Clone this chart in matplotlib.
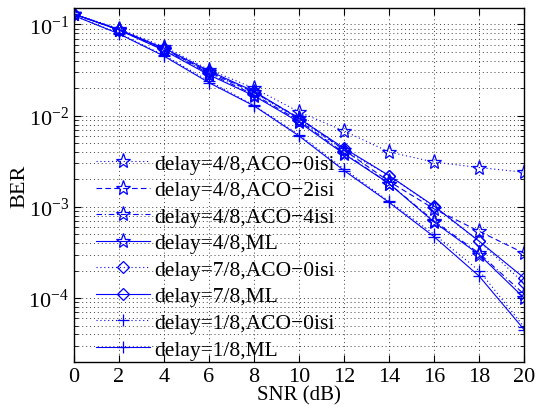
import numpy as np
import matplotlib
matplotlib.use("Agg")
import matplotlib.pyplot as plt
from matplotlib.ticker import LogLocator, NullFormatter

# values
snr = [0, 2, 4, 6, 8, 10, 12, 14, 16, 18, 20]
d4_aco0 = [0.13, 0.090, 0.057, 0.032, 0.020, 0.0110, 0.0068, 0.0040, 0.0031, 0.0027, 0.0024]
d4_aco2 = [0.13, 0.088, 0.054, 0.030, 0.018, 0.0095, 0.0042, 0.0019, 0.00095, 0.00054, 0.00031]
d4_aco4 = [0.13, 0.087, 0.053, 0.029, 0.017, 0.0088, 0.0039, 0.0018, 0.00070, 0.00031, 0.00011]
d4_ml = [0.13, 0.087, 0.052, 0.028, 0.0165, 0.0085, 0.0038, 0.0018, 0.00068, 0.00030, 0.00010]
d7_aco0 = [0.13, 0.088, 0.054, 0.030, 0.018, 0.0090, 0.0042, 0.0022, 0.0010, 0.00042, 0.000145]
d7_ml = [0.13, 0.088, 0.055, 0.031, 0.0185, 0.0093, 0.0044, 0.0022, 0.00102, 0.00042, 0.000166]
d1_aco0 = [0.125, 0.080, 0.046, 0.024, 0.013, 0.0062, 0.0026, 0.00115, 0.00050, 0.00020, 0.000048]
d1_ml = [0.125, 0.079, 0.045, 0.023, 0.0128, 0.0060, 0.0025, 0.00112, 0.00047, 0.000174, 0.000045]

plt.rcParams['font.family'] = ['Liberation Serif', 'DejaVu Serif']
plt.rcParams['mathtext.fontset'] = 'stix'

fig = plt.figure(figsize=(5.36, 4.10), dpi=100)
ax = fig.add_axes([0.138, 0.115, 0.84, 0.862])

blue = (0, 0, 1)
dotted = (0, (1, 2.5))
dashed = (0, (5, 3))
dashdot = (0, (5, 2.5, 1, 2.5))
series = [
    (d4_aco0, dotted, '*', 11, 'delay=4/8,ACO\u22120isi'),
    (d4_aco2, dashed, '*', 11, 'delay=4/8,ACO\u22122isi'),
    (d4_aco4, dashdot, '*', 11, 'delay=4/8,ACO\u22124isi'),
    (d4_ml, '-', '*', 11, 'delay=4/8,ML'),
    (d7_aco0, dotted, 'D', 6.5, 'delay=7/8,ACO\u22120isi'),
    (d7_ml, '-', 'D', 6.5, 'delay=7/8,ML'),
    (d1_aco0, dotted, '+', 9, 'delay=1/8,ACO\u22120isi'),
    (d1_ml, '-', '+', 9, 'delay=1/8,ML'),
]
for vals, ls, mk, ms, lab in series:
    ax.semilogy(snr, vals, linestyle=ls, marker=mk, color=blue, lw=0.8,
                ms=ms, mfc='none', mec=blue, mew=0.9, label=lab)

ax.set_xlim(0, 20)
ax.set_ylim(2e-5, 0.15)
ax.set_xticks(range(0, 21, 2))
ax.yaxis.set_major_locator(LogLocator(base=10))
ax.yaxis.set_minor_locator(LogLocator(base=10, subs=np.arange(2, 10)))
ax.yaxis.set_minor_formatter(NullFormatter())
grid_ls = (0, (1, 3))
ax.grid(True, which='major', linestyle=grid_ls, color='0.25', lw=0.7)
ax.grid(True, which='minor', axis='y', linestyle=grid_ls, color='0.25', lw=0.7)
ax.tick_params(which='both', direction='in', top=True, right=True, labelsize=16)
ax.tick_params(which='major', length=5)
ax.tick_params(which='minor', length=3)
for s in ax.spines.values():
    s.set_linewidth(1.0)
ax.set_xlabel('SNR (dB)', fontsize=15, labelpad=0)
ax.set_ylabel('BER', fontsize=16, labelpad=-1)

ax.legend(loc='lower left', bbox_to_anchor=(0.02, -0.03), frameon=False,
          fontsize=15.5, handlelength=2.5, labelspacing=0.3, borderaxespad=0.2,
          handletextpad=0.2)

fig.savefig('out.png', dpi=100)
